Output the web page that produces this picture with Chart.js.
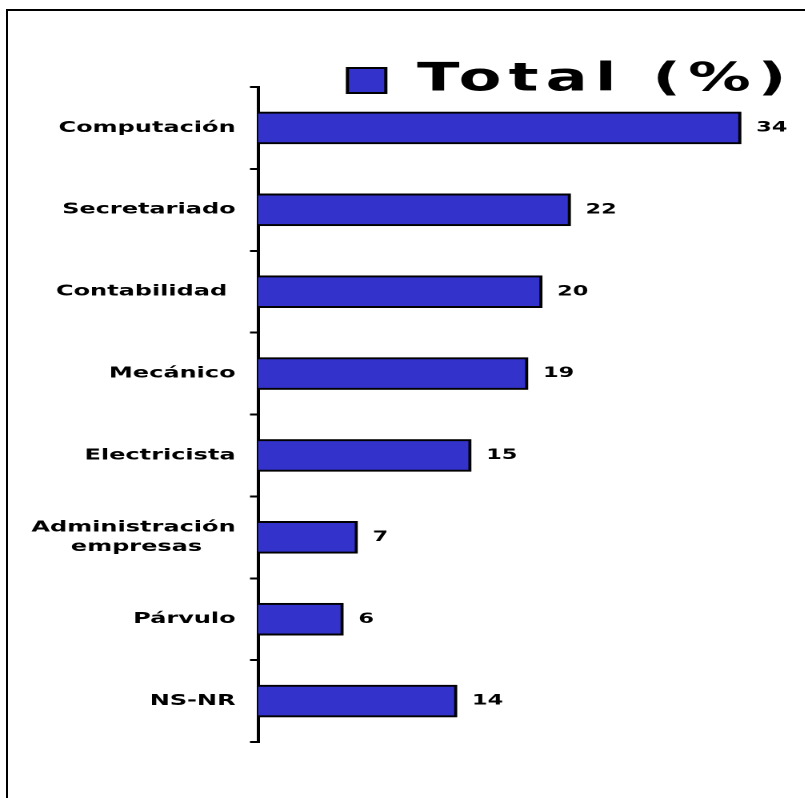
<!DOCTYPE html>
<html>
<head>
<meta charset="utf-8">
<script src="https://cdn.jsdelivr.net/npm/chart.js@4.4.1/dist/chart.umd.min.js"></script>
<style>
  html, body { margin: 0; padding: 0; background: #ffffff; overflow: hidden; }
  body { width: 805px; height: 798px; position: relative; }
  #frame { position: absolute; left: 6px; top: 9px; width: 1000px; height: 1000px; border: 2px solid #000; box-sizing: border-box; }
  #wrap { position: absolute; left: 0; top: 0; width: 503.125px; height: 798px; transform: scaleX(1.6); transform-origin: 0 0; }
</style>
</head>
<body>
<div id="frame"></div>
<div id="wrap"><canvas id="c"></canvas></div>
<script>
// ---- data ----
const categories = [
  'Computación',
  'Secretariado',
  'Contabilidad ',
  'Mecánico',
  'Electricista',
  ['Administración', 'empresas    '],
  'Párvulo',
  'NS-NR'
];
const seriesName = 'Total (%)';
const totals = [34, 22, 20, 19, 15, 7, 6, 14];

const FONT = '"DejaVu Sans", Verdana, sans-serif';

const valueLabels = {
  id: 'valueLabels',
  afterDatasetsDraw(chart) {
    const ctx = chart.ctx;
    const meta = chart.getDatasetMeta(0);
    ctx.save();
    ctx.font = 'bold 14px ' + FONT;
    ctx.fillStyle = '#000';
    ctx.textAlign = 'left';
    ctx.textBaseline = 'middle';
    meta.data.forEach((bar, i) => {
      ctx.fillText(String(chart.data.datasets[0].data[i]), bar.x + 9.5, bar.y);
    });
    ctx.restore();
  }
};

const legendTweak = {
  id: 'legendTweak',
  beforeUpdate(chart) {
    const lg = chart.legend;
    if (lg && !lg._spaced) {
      ['fit', 'draw'].forEach(m => {
        const orig = lg[m];
        lg[m] = function (...args) {
          const c = this.ctx;
          const prev = c.letterSpacing;
          c.letterSpacing = '4.5px';
          try { return orig.apply(this, args); }
          finally { c.letterSpacing = prev; }
        };
      });
      lg._spaced = true;
    }
  },
  afterLayout(chart) {
    const lg = chart.legend;
    const dx = 503 - lg.right;
    const dy = 54 - lg.top;
    lg.left += dx; lg.right += dx;
    lg.top += dy; lg.bottom += dy;
  }
};

new Chart(document.getElementById('c'), {
  type: 'bar',
  data: {
    labels: categories,
    datasets: [{
      label: seriesName,
      data: totals,
      backgroundColor: '#3333CC',
      borderColor: '#000000',
      borderWidth: 2,
      barThickness: 32
    }]
  },
  options: {
    indexAxis: 'y',
    responsive: true,
    maintainAspectRatio: false,
    devicePixelRatio: 2,
    animation: false,
    layout: { padding: { left: 0, top: 31, right: 22.25, bottom: 56 } },
    plugins: {
      tooltip: { enabled: false },
      legend: {
        display: true,
        position: 'top',
        align: 'end',
        labels: {
          boxWidth: 24,
          boxHeight: 25,
          padding: 7,
          color: '#000',
          font: { family: FONT, size: 39, weight: 'bold' }
        }
      }
    },
    scales: {
      x: {
        display: false,
        min: 0,
        max: 36
      },
      y: {
        afterFit(scale) { scale.width = 161.25; },
        grid: {
          display: true,
          drawOnChartArea: false,
          drawTicks: true,
          tickLength: 5,
          lineWidth: 2,
          color: '#000',
          offset: true
        },
        border: { display: true, color: '#000', width: 2 },
        ticks: {
          color: '#000',
          padding: 9,
          autoSkip: false,
          font: { family: FONT, size: 15, weight: 'bold', lineHeight: 1.3 }
        }
      }
    }
  },
  plugins: [valueLabels, legendTweak]
});
</script>
</body>
</html>
